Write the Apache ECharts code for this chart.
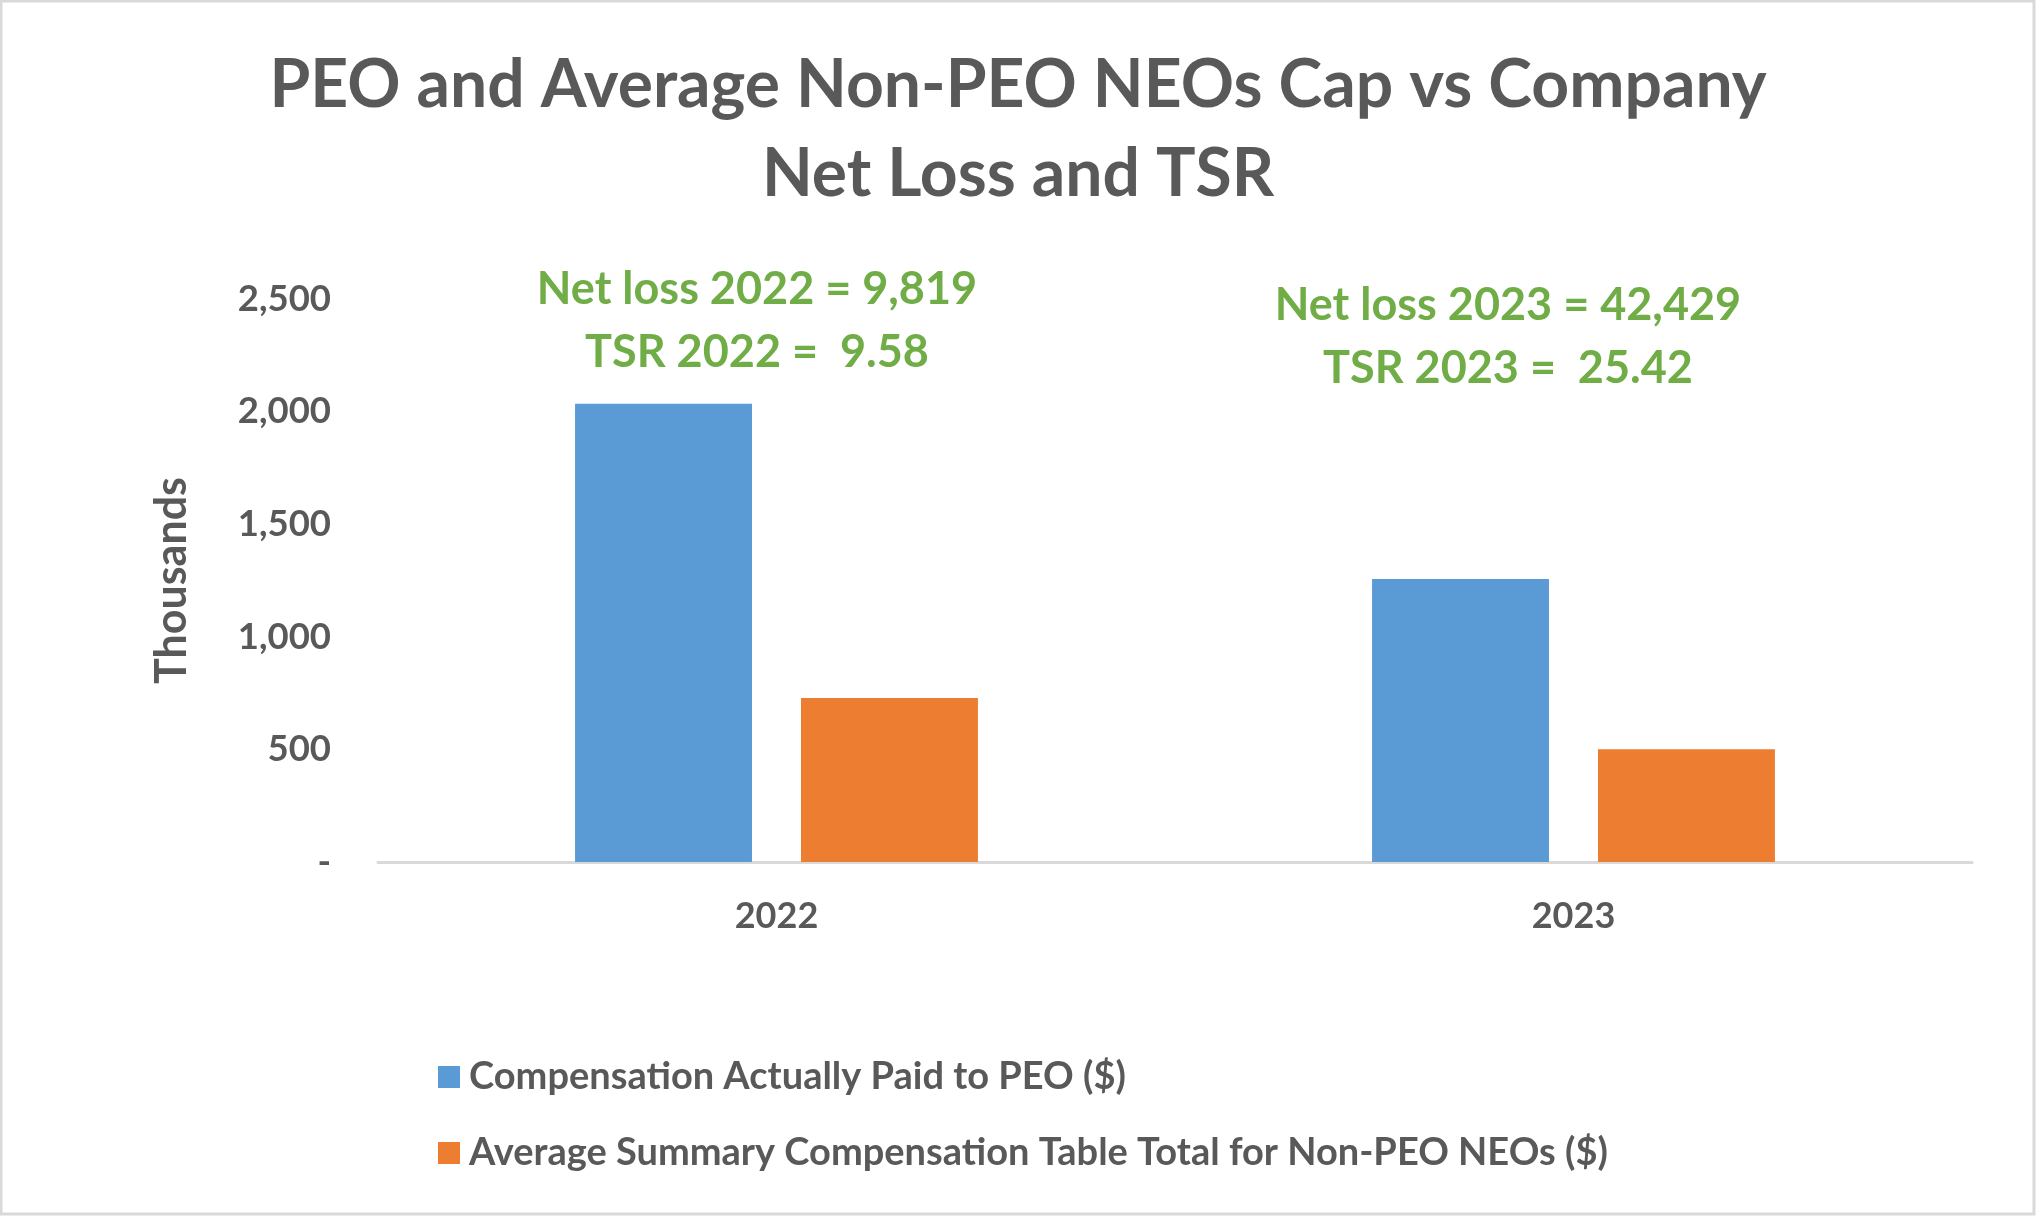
<!DOCTYPE html>
<html>
<head>
<meta charset="utf-8">
<script src="https://cdn.jsdelivr.net/npm/echarts@6/dist/echarts.min.js"></script>
<style>html,body{margin:0;padding:0;background:#fff}#c{width:2036px;height:1216px}</style>
</head>
<body>
<div id="c"></div>
<script>
const categories = ['2022', '2023'];
const peoCap = [2035, 1257];
const nonPeoAvg = [728, 501];
const seriesNames = ['Compensation Actually Paid to PEO ($)', 'Average Summary Compensation Table Total for Non-PEO NEOs ($)'];
const netLossLabels = ['Net loss 2022 = 9,819', 'Net loss 2023 = 42,429'];
const tsrLabels = ['TSR 2022 =  9.58', 'TSR 2023 =  25.42'];
const yTicks = [0, 500, 1000, 1500, 2000, 2500];

const FONT = 'Lato';
const chart = echarts.init(document.getElementById('c'));
chart.setOption({
  backgroundColor: '#ffffff',
  animation: false,
  title: {
    text: 'PEO and Average Non-PEO NEOs Cap vs Company\nNet Loss and TSR',
    left: 'center',
    top: 36,
    textStyle: {fontFamily: FONT, fontWeight: 'bold', fontSize: 66, lineHeight: 89, color: '#595959'}
  },
  legend: {
    orient: 'vertical',
    left: 433,
    top: 1053,
    itemWidth: 22,
    itemHeight: 22,
    itemGap: 38,
    icon: 'rect',
    textStyle: {fontFamily: FONT, fontWeight: 'bold', fontSize: 38, color: '#595959', padding: [0, 0, 0, 4]},
    data: seriesNames
  },
  grid: {left: 378, right: 64, top: 299, height: 563, containLabel: false},
  xAxis: {
    type: 'category',
    data: categories,
    axisLine: {lineStyle: {color: '#D9D9D9', width: 3}},
    axisTick: {show: false},
    axisLabel: {fontFamily: FONT, fontWeight: 'bold', fontSize: 36, color: '#595959', margin: 36}
  },
  yAxis: {
    type: 'value',
    min: yTicks[0],
    max: yTicks[yTicks.length - 1],
    interval: 500,
    name: 'Thousands',
    nameLocation: 'middle',
    nameRotate: 90,
    nameGap: 184,
    nameTextStyle: {fontFamily: FONT, fontWeight: 'bold', fontSize: 43, color: '#595959'},
    axisLine: {show: false},
    axisTick: {show: false},
    splitLine: {show: false},
    axisLabel: {
      fontFamily: FONT, fontWeight: 'bold', fontSize: 36.5, color: '#595959', margin: 47,
      formatter: v => v === 0 ? '-' : v.toLocaleString('en-US')
    }
  },
  series: [
    {name: seriesNames[0], type: 'bar', data: peoCap, barWidth: '22.2%', barGap: '27.7%', itemStyle: {color: '#5B9BD5'}},
    {name: seriesNames[1], type: 'bar', data: nonPeoAvg, barWidth: '22.2%', itemStyle: {color: '#ED7D31'}}
  ],
  graphic: [
    {type: 'rect', shape: {x: 1, y: 1, width: 2033, height: 1213}, style: {fill: 'none', stroke: '#D9D9D9', lineWidth: 3}, silent: true},
    {type: 'text', style: {text: netLossLabels[0] + '\n' + tsrLabels[0], fontFamily: FONT, fontWeight: 'bold', fontSize: 45, lineHeight: 63, fill: '#70AD47', align: 'center', verticalAlign: 'top'}, x: 757, y: 258},
    {type: 'text', style: {text: netLossLabels[1] + '\n' + tsrLabels[1], fontFamily: FONT, fontWeight: 'bold', fontSize: 45, lineHeight: 63, fill: '#70AD47', align: 'center', verticalAlign: 'top'}, x: 1508, y: 274}
  ]
});
</script>
</body>
</html>
